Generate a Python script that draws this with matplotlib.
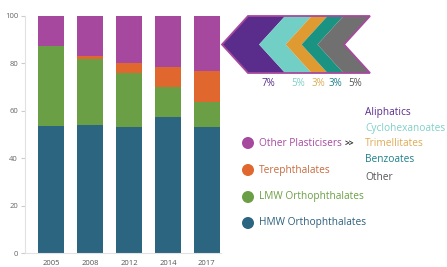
import matplotlib
matplotlib.use("Agg")
import matplotlib.pyplot as plt
from matplotlib.patches import Polygon, Circle
import numpy as np

years = ["2005", "2008", "2012", "2014", "2017"]
hmw = [53.4, 53.9, 53.2, 57.5, 53.0]
lmw = [33.9, 28.1, 22.7, 12.5, 10.7]
tere = [0.0, 1.0, 4.1, 8.3, 13.0]
other = [12.7, 17.0, 20.0, 21.7, 23.3]

series_names = ["HMW Orthophthalates", "LMW Orthophthalates", "Terephthalates", "Other Plasticisers"]
series_colors = ["#2c6580", "#6b9f45", "#e0682e", "#a6499e"]
text_colors = ["#2c5f7c", "#6b9f45", "#c86a3c", "#a6499e"]

sub_names = ["Aliphatics", "Cyclohexanoates", "Trimellitates", "Benzoates", "Other"]
sub_pcts = [7, 5, 3, 3, 5]
sub_colors = ["#5a2d8c", "#72cfc6", "#e09a32", "#1b9383", "#707070"]
sub_text_colors = ["#5a2d8c", "#7fd0c8", "#e0aa55", "#1e7f8a", "#555555"]

plt.rcParams['font.family'] = ['Open Sans', 'DejaVu Sans']

W, H = 447, 267
fig = plt.figure(figsize=(W / 100, H / 100), dpi=100)
ax = fig.add_axes([25 / W, (H - 253) / H, (220.5 - 25) / W, (253 - 16) / H])

x = np.arange(len(years))
bottom = np.zeros(len(years))
for vals, col in zip([hmw, lmw, tere, other], series_colors):
    ax.bar(x, vals, bottom=bottom, width=0.68, color=col, edgecolor='none')
    bottom += np.array(vals)

ax.set_xlim(-0.67, 4.35)
ax.set_ylim(0, 100)
ax.set_yticks([0, 20, 40, 60, 80, 100])
ax.set_xticks(x)
ax.set_xticklabels(years)
for s in ["top", "right"]:
    ax.spines[s].set_visible(False)
for s in ["left", "bottom"]:
    ax.spines[s].set_color("#e2e2e2")
    ax.spines[s].set_linewidth(0.8)
ax.tick_params(axis='y', length=3, color="#cccccc", labelsize=5.5, labelcolor="#666666", pad=2)
ax.tick_params(axis='x', length=0, labelsize=5.5, labelcolor="#555555", pad=5)

# Overlay axes in pixel coordinates for the infographic part
ov = fig.add_axes([0, 0, 1, 1])
ov.set_xlim(0, W)
ov.set_ylim(H, 0)
ov.axis('off')
ov.patch.set_alpha(0)

# Chevron arrow
x_left_tip, x_top_left, x_right, y_top, y_bot = 222, 248, 370, 16, 73
y_mid = (y_top + y_bot) / 2
off = x_top_left - x_left_tip
total = sum(sub_pcts)
span = x_right - x_top_left
starts = [x_top_left]
for p in sub_pcts:
    starts.append(starts[-1] + span * p / total)
for i, col in enumerate(sub_colors):
    a, b = starts[i], starts[i + 1]
    if i == 0:
        pts = [(x_left_tip, y_mid), (a, y_top), (b, y_top), (b - off, y_mid), (b, y_bot), (a, y_bot)]
    else:
        pts = [(a - off, y_mid), (a, y_top), (b, y_top), (b - off, y_mid), (b, y_bot), (a, y_bot)]
    ov.add_patch(Polygon(pts, closed=True, facecolor=col, edgecolor='none'))
outline = [(x_left_tip, y_mid), (x_top_left, y_top), (x_right, y_top), (x_right - off, y_mid),
           (x_right, y_bot), (x_top_left, y_bot)]
ov.add_patch(Polygon(outline, closed=True, facecolor='none', edgecolor="#a6499e", linewidth=1.3))

pct_x = [268, 298, 318, 335, 355]
for px, p, col in zip(pct_x, sub_pcts, sub_text_colors):
    ov.text(px, 84, f"{p}%", color=col, fontsize=7, ha='center', va='center')

# Sub-category list
sub_y = [113, 128, 144, 160, 177]
for yy, name, col in zip(sub_y, sub_names, sub_text_colors):
    ov.text(365, yy, name, color=col, fontsize=7.3, ha='left', va='center')

# Main legend
leg_y = [223, 197, 170, 143]
for yy, name, col, tcol in zip(leg_y, series_names, series_colors, text_colors):
    ov.add_patch(Circle((248, yy), 6, facecolor=col, edgecolor='none'))
    ov.text(259, yy, name, color=tcol, fontsize=7.3, ha='left', va='center')
ov.text(345, 143.5, ">>", color="#333333", fontsize=6, fontweight='bold', ha='left', va='center')

fig.savefig("out.png", dpi=100)
